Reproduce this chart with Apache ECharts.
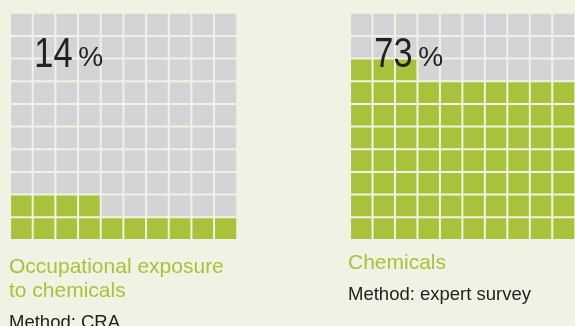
<!DOCTYPE html>
<html>
<head>
<meta charset="utf-8">
<script src="https://cdn.jsdelivr.net/npm/echarts@6/dist/echarts.min.js"></script>
<style>
  html, body { margin: 0; padding: 0; background: #f1f2e4; }
  #chart { width: 575px; height: 326px; }
</style>
</head>
<body>
<div id="chart"></div>
<script>
// share of burden, one waffle (10 x 10) per panel
const shares = [14, 73];
const titles = [['Occupational exposure', 'to chemicals'], ['Chemicals']];
const methods = ['Method: CRA', 'Method: expert survey'];
const gridCols = ['1', '2', '3', '4', '5', '6', '7', '8', '9', '10'];
const gridRows = ['1', '2', '3', '4', '5', '6', '7', '8', '9', '10'];

const green = '#a9c23b';
const grey = '#d3d4d6';
const bg = '#f1f2e4';

// fill from bottom-left, row by row
function cells(pct) {
  let out = [];
  for (let i = 0; i < 100; i++) {
    let c = i % 10, r = Math.floor(i / 10);
    out.push({ value: [c, r, i < pct ? 1 : 0], itemStyle: { color: i < pct ? green : grey } });
  }
  return out;
}

const lefts = [10.3, 350.3];
const txtLefts = [9, 348];

let chart = echarts.init(document.getElementById('chart'));
let option = {
  backgroundColor: bg,
  animation: false,
  grid: lefts.map(l => ({ left: l, top: 13, width: 226.7, height: 226.7 })),
  xAxis: lefts.map((l, k) => ({ type: 'category', gridIndex: k, data: gridCols, show: false })),
  yAxis: lefts.map((l, k) => ({ type: 'category', gridIndex: k, data: gridRows, show: false })),
  series: shares.map((p, k) => ({
    type: 'heatmap',
    xAxisIndex: k,
    yAxisIndex: k,
    data: cells(p),
    itemStyle: { borderColor: bg, borderWidth: 2 },
    emphasis: { disabled: true }
  })),
  graphic: []
};

shares.forEach((p, k) => {
  let x0 = lefts[k];
  // big number, squeezed a little to look condensed
  option.graphic.push({
    type: 'text', x: x0 + 24, y: 34, scaleX: 0.8, z: 100,
    style: { text: String(p), fill: '#222', font: '43px "Liberation Sans"' }
  });
  option.graphic.push({
    type: 'text', x: x0 + 68, y: 44.5, z: 100,
    style: { text: '%', fill: '#222', font: '28px "Liberation Sans"' }
  });
  let tl = titles[k];
  let ty = k === 0 ? 257 : 253;
  tl.forEach((t, j) => {
    option.graphic.push({
      type: 'text', left: txtLefts[k], top: ty + j * 24, z: 100,
      style: { text: t, fill: green, font: '21px "Liberation Sans"' }
    });
  });
  option.graphic.push({
    type: 'text', left: txtLefts[k], top: ty + tl.length * 24 + 8, z: 100,
    style: { text: methods[k], fill: '#222', font: '18.5px "Liberation Sans"' }
  });
});

chart.setOption(option);
</script>
</body>
</html>
